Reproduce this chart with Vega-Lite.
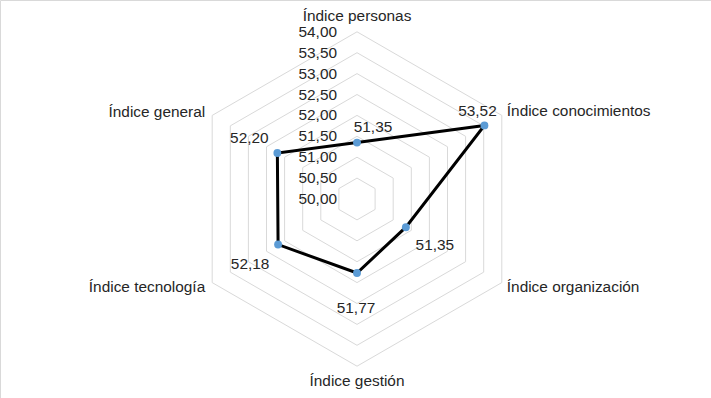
{
  "$schema": "https://vega.github.io/schema/vega-lite/v6.json",
  "width": 711,
  "height": 398,
  "padding": 0,
  "autosize": {"type": "none"},
  "background": "white",
  "config": {
    "view": {"stroke": "#d9d9d9", "strokeWidth": 1},
    "locale": {"number": {"decimal": ",", "thousands": ".", "grouping": [3], "currency": ["", " €"]}},
    "text": {"font": "Liberation Sans", "fontSize": 15.4, "color": "#262626"}
  },
  "datasets": {
    "pts": [
      {"axis": "Índice personas", "idx": 0, "value": 51.35},
      {"axis": "Índice conocimientos", "idx": 1, "value": 53.52},
      {"axis": "Índice organización", "idx": 2, "value": 51.35},
      {"axis": "Índice gestión", "idx": 3, "value": 51.77},
      {"axis": "Índice tecnología", "idx": 4, "value": 52.18},
      {"axis": "Índice general", "idx": 5, "value": 52.20}
    ],
    "rings": [
      {"ring": 50.0, "idx": [0, 1, 2, 3, 4, 5]},
      {"ring": 50.5, "idx": [0, 1, 2, 3, 4, 5]},
      {"ring": 51.0, "idx": [0, 1, 2, 3, 4, 5]},
      {"ring": 51.5, "idx": [0, 1, 2, 3, 4, 5]},
      {"ring": 52.0, "idx": [0, 1, 2, 3, 4, 5]},
      {"ring": 52.5, "idx": [0, 1, 2, 3, 4, 5]},
      {"ring": 53.0, "idx": [0, 1, 2, 3, 4, 5]},
      {"ring": 53.5, "idx": [0, 1, 2, 3, 4, 5]},
      {"ring": 54.0, "idx": [0, 1, 2, 3, 4, 5]}
    ]
  },
  "encoding": {
    "x": {"field": "px", "type": "quantitative", "axis": null, "scale": {"domain": [-8.5407, 8.4689], "nice": false, "zero": false}},
    "y": {"field": "py", "type": "quantitative", "axis": null, "scale": {"domain": [-4.7608, 4.7608], "nice": false, "zero": false}}
  },
  "layer": [
    {
      "data": {"name": "rings"},
      "transform": [
        {"filter": "datum.ring > 50"},
        {"flatten": ["idx"]},
        {"calculate": "(datum.ring-50)*sin(datum.idx*PI/3)", "as": "px"},
        {"calculate": "(datum.ring-50)*cos(datum.idx*PI/3)", "as": "py"}
      ],
      "mark": {"type": "line", "interpolate": "linear-closed", "stroke": "#d9d9d9", "strokeWidth": 1},
      "encoding": {"detail": {"field": "ring"}, "order": {"field": "idx", "type": "quantitative"}}
    },
    {
      "data": {"name": "pts"},
      "transform": [
        {"calculate": "(datum.value-50)*sin(datum.idx*PI/3)", "as": "px"},
        {"calculate": "(datum.value-50)*cos(datum.idx*PI/3)", "as": "py"}
      ],
      "mark": {"type": "line", "interpolate": "linear-closed", "stroke": "#000000", "strokeWidth": 3},
      "encoding": {"order": {"field": "idx", "type": "quantitative"}}
    },
    {
      "data": {"name": "pts"},
      "transform": [
        {"calculate": "(datum.value-50)*sin(datum.idx*PI/3)", "as": "px"},
        {"calculate": "(datum.value-50)*cos(datum.idx*PI/3)", "as": "py"}
      ],
      "mark": {"type": "circle", "size": 62, "color": "#5B9BD5", "opacity": 1},
      "encoding": {}
    },
    {
      "data": {"name": "rings"},
      "transform": [
        {"calculate": "0", "as": "px"},
        {"calculate": "datum.ring-50", "as": "py"}
      ],
      "mark": {"type": "text", "align": "right", "baseline": "middle", "dx": -20},
      "encoding": {"text": {"field": "ring", "type": "quantitative", "format": ".2f"}}
    },
    {
      "data": {"name": "pts"},
      "transform": [
        {"filter": "datum.idx == 0"},
        {"calculate": "4*sin(datum.idx*PI/3)", "as": "px"},
        {"calculate": "4*cos(datum.idx*PI/3)", "as": "py"}
      ],
      "mark": {"type": "text", "align": "center", "baseline": "middle", "dy": -16},
      "encoding": {"text": {"field": "axis"}}
    },
    {
      "data": {"name": "pts"},
      "transform": [
        {"filter": "datum.idx == 3"},
        {"calculate": "4*sin(datum.idx*PI/3)", "as": "px"},
        {"calculate": "4*cos(datum.idx*PI/3)", "as": "py"}
      ],
      "mark": {"type": "text", "align": "center", "baseline": "middle", "dy": 15},
      "encoding": {"text": {"field": "axis"}}
    },
    {
      "data": {"name": "pts"},
      "transform": [
        {"filter": "datum.idx == 1"},
        {"calculate": "4*sin(datum.idx*PI/3)", "as": "px"},
        {"calculate": "4*cos(datum.idx*PI/3)", "as": "py"}
      ],
      "mark": {"type": "text", "align": "left", "baseline": "middle", "dx": 5, "dy": -4},
      "encoding": {"text": {"field": "axis"}}
    },
    {
      "data": {"name": "pts"},
      "transform": [
        {"filter": "datum.idx == 2"},
        {"calculate": "4*sin(datum.idx*PI/3)", "as": "px"},
        {"calculate": "4*cos(datum.idx*PI/3)", "as": "py"}
      ],
      "mark": {"type": "text", "align": "left", "baseline": "middle", "dx": 5, "dy": 4},
      "encoding": {"text": {"field": "axis"}}
    },
    {
      "data": {"name": "pts"},
      "transform": [
        {"filter": "datum.idx == 4"},
        {"calculate": "4*sin(datum.idx*PI/3)", "as": "px"},
        {"calculate": "4*cos(datum.idx*PI/3)", "as": "py"}
      ],
      "mark": {"type": "text", "align": "right", "baseline": "middle", "dx": -7, "dy": 4},
      "encoding": {"text": {"field": "axis"}}
    },
    {
      "data": {"name": "pts"},
      "transform": [
        {"filter": "datum.idx == 5"},
        {"calculate": "4*sin(datum.idx*PI/3)", "as": "px"},
        {"calculate": "4*cos(datum.idx*PI/3)", "as": "py"}
      ],
      "mark": {"type": "text", "align": "right", "baseline": "middle", "dx": -7, "dy": -3},
      "encoding": {"text": {"field": "axis"}}
    },
    {
      "data": {"name": "pts"},
      "transform": [
        {"filter": "datum.idx == 0"},
        {"calculate": "(datum.value-50)*sin(datum.idx*PI/3)", "as": "px"},
        {"calculate": "(datum.value-50)*cos(datum.idx*PI/3)", "as": "py"}
      ],
      "mark": {"type": "text", "align": "center", "baseline": "middle", "dx": 16, "dy": -16},
      "encoding": {"text": {"field": "value", "type": "quantitative", "format": ".2f"}}
    },
    {
      "data": {"name": "pts"},
      "transform": [
        {"filter": "datum.idx == 1"},
        {"calculate": "(datum.value-50)*sin(datum.idx*PI/3)", "as": "px"},
        {"calculate": "(datum.value-50)*cos(datum.idx*PI/3)", "as": "py"}
      ],
      "mark": {"type": "text", "align": "center", "baseline": "middle", "dx": -7, "dy": -14},
      "encoding": {"text": {"field": "value", "type": "quantitative", "format": ".2f"}}
    },
    {
      "data": {"name": "pts"},
      "transform": [
        {"filter": "datum.idx == 2"},
        {"calculate": "(datum.value-50)*sin(datum.idx*PI/3)", "as": "px"},
        {"calculate": "(datum.value-50)*cos(datum.idx*PI/3)", "as": "py"}
      ],
      "mark": {"type": "text", "align": "center", "baseline": "middle", "dx": 29, "dy": 18},
      "encoding": {"text": {"field": "value", "type": "quantitative", "format": ".2f"}}
    },
    {
      "data": {"name": "pts"},
      "transform": [
        {"filter": "datum.idx == 3"},
        {"calculate": "(datum.value-50)*sin(datum.idx*PI/3)", "as": "px"},
        {"calculate": "(datum.value-50)*cos(datum.idx*PI/3)", "as": "py"}
      ],
      "mark": {"type": "text", "align": "center", "baseline": "middle", "dx": -1, "dy": 35},
      "encoding": {"text": {"field": "value", "type": "quantitative", "format": ".2f"}}
    },
    {
      "data": {"name": "pts"},
      "transform": [
        {"filter": "datum.idx == 4"},
        {"calculate": "(datum.value-50)*sin(datum.idx*PI/3)", "as": "px"},
        {"calculate": "(datum.value-50)*cos(datum.idx*PI/3)", "as": "py"}
      ],
      "mark": {"type": "text", "align": "center", "baseline": "middle", "dx": -28, "dy": 19},
      "encoding": {"text": {"field": "value", "type": "quantitative", "format": ".2f"}}
    },
    {
      "data": {"name": "pts"},
      "transform": [
        {"filter": "datum.idx == 5"},
        {"calculate": "(datum.value-50)*sin(datum.idx*PI/3)", "as": "px"},
        {"calculate": "(datum.value-50)*cos(datum.idx*PI/3)", "as": "py"}
      ],
      "mark": {"type": "text", "align": "center", "baseline": "middle", "dx": -28, "dy": -15},
      "encoding": {"text": {"field": "value", "type": "quantitative", "format": ".2f"}}
    }
  ]
}
